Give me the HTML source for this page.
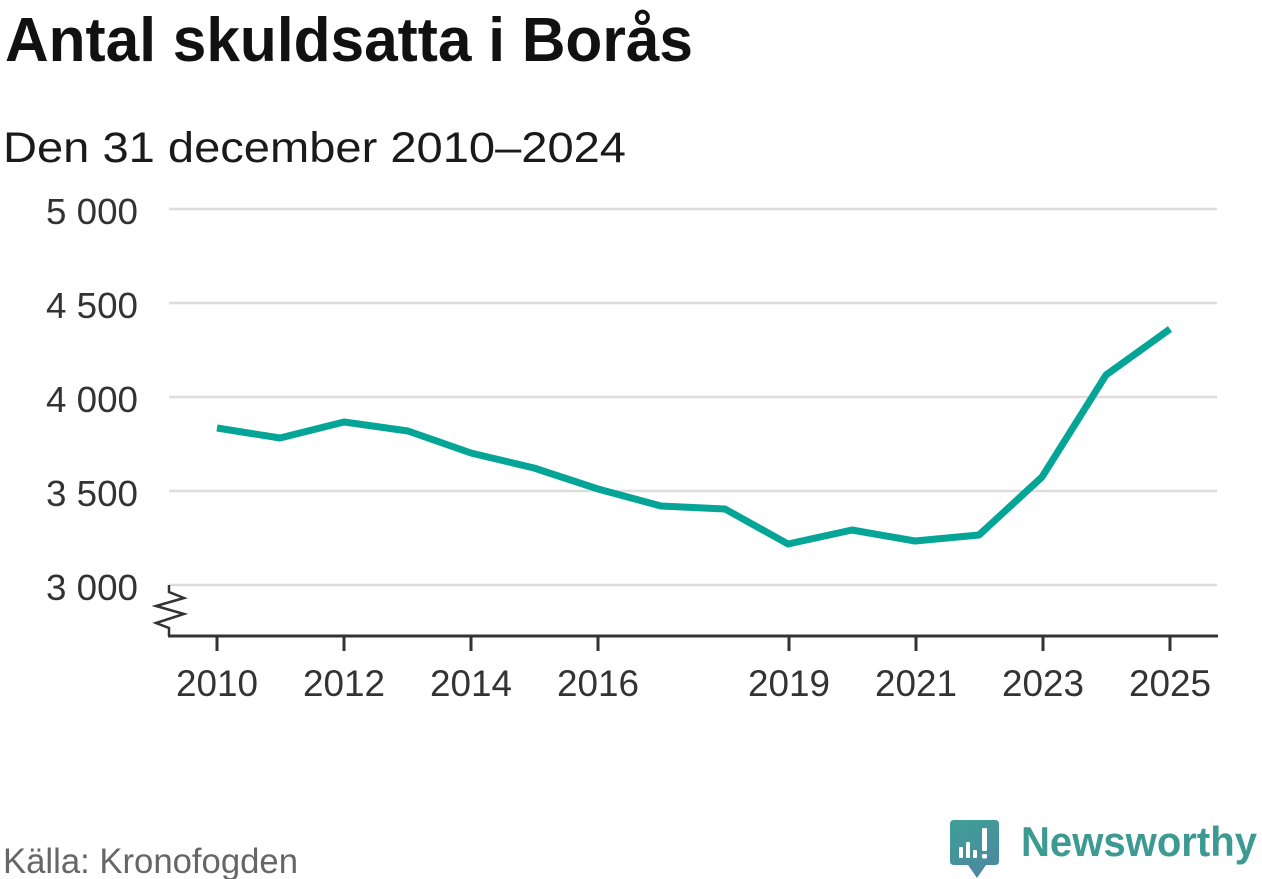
<!DOCTYPE html>
<html>
<head>
<meta charset="utf-8">
<style>
  html, body { margin: 0; padding: 0; background: #ffffff; }
  body { width: 1262px; height: 879px; overflow: hidden; }
  svg { display: block; }
  text { font-family: "Liberation Sans", "DejaVu Sans", sans-serif; }
</style>
</head>
<body>
<svg width="1262" height="879" viewBox="0 0 1262 879" xmlns="http://www.w3.org/2000/svg">
  <defs>
    <linearGradient id="lg" x1="0" y1="0" x2="0.4" y2="1">
      <stop offset="0" stop-color="#3fa096"/>
      <stop offset="1" stop-color="#4a8aa0"/>
    </linearGradient>
  </defs>

  <!-- Title -->
  <text x="5" y="61" font-size="62" font-weight="bold" fill="#111111" textLength="688" lengthAdjust="spacingAndGlyphs">Antal skuldsatta i Borås</text>
  <!-- Subtitle -->
  <text x="3" y="162" font-size="43" fill="#1a1a1a" textLength="623" lengthAdjust="spacingAndGlyphs">Den 31 december 2010–2024</text>

  <!-- Gridlines -->
  <g stroke="#dddddd" stroke-width="2.5">
    <line x1="169" y1="209" x2="1217" y2="209"/>
    <line x1="169" y1="303" x2="1217" y2="303"/>
    <line x1="169" y1="397" x2="1217" y2="397"/>
    <line x1="169" y1="491" x2="1217" y2="491"/>
    <line x1="169" y1="585" x2="1217" y2="585"/>
  </g>

  <!-- Y labels -->
  <g font-size="36" fill="#333333" text-anchor="end">
    <text x="138" y="224" textLength="92" lengthAdjust="spacingAndGlyphs">5 000</text>
    <text x="138" y="318" textLength="92" lengthAdjust="spacingAndGlyphs">4 500</text>
    <text x="138" y="412" textLength="92" lengthAdjust="spacingAndGlyphs">4 000</text>
    <text x="138" y="506" textLength="92" lengthAdjust="spacingAndGlyphs">3 500</text>
    <text x="138" y="600" textLength="92" lengthAdjust="spacingAndGlyphs">3 000</text>
  </g>

  <!-- Axis break -->
  <polyline points="169,585 169,592 184,598 156,606 184,614 156,623 169,628 169,636" fill="none" stroke="#333333" stroke-width="2.5" stroke-linejoin="miter"/>

  <!-- X axis -->
  <line x1="168" y1="636" x2="1218" y2="636" stroke="#333333" stroke-width="3"/>
  <g stroke="#333333" stroke-width="3">
    <line x1="217" y1="636" x2="217" y2="651"/>
    <line x1="344" y1="636" x2="344" y2="651"/>
    <line x1="471" y1="636" x2="471" y2="651"/>
    <line x1="598" y1="636" x2="598" y2="651"/>
    <line x1="789" y1="636" x2="789" y2="651"/>
    <line x1="916" y1="636" x2="916" y2="651"/>
    <line x1="1043" y1="636" x2="1043" y2="651"/>
    <line x1="1170" y1="636" x2="1170" y2="651"/>
  </g>
  <g font-size="37" fill="#333333" text-anchor="middle">
    <text x="217" y="696" textLength="82" lengthAdjust="spacingAndGlyphs">2010</text>
    <text x="344" y="696" textLength="82" lengthAdjust="spacingAndGlyphs">2012</text>
    <text x="471" y="696" textLength="82" lengthAdjust="spacingAndGlyphs">2014</text>
    <text x="598" y="696" textLength="82" lengthAdjust="spacingAndGlyphs">2016</text>
    <text x="789" y="696" textLength="82" lengthAdjust="spacingAndGlyphs">2019</text>
    <text x="916" y="696" textLength="82" lengthAdjust="spacingAndGlyphs">2021</text>
    <text x="1043" y="696" textLength="82" lengthAdjust="spacingAndGlyphs">2023</text>
    <text x="1170" y="696" textLength="82" lengthAdjust="spacingAndGlyphs">2025</text>
  </g>

  <!-- Data line -->
  <polyline fill="none" stroke="#04a597" stroke-width="7" stroke-linejoin="round" stroke-linecap="butt"
    points="217,428 280,438 344,422 408,431 471,453 534,468 598,489 661,506 725,509 788,544 852,530 915,541 979,535 1042,477 1106,375 1170,329"/>

  <!-- Source -->
  <text x="3" y="873" font-size="35" fill="#666666" textLength="295" lengthAdjust="spacingAndGlyphs">Källa: Kronofogden</text>

  <!-- Logo icon -->
  <path d="M954,820 H995 Q999,820 999,824 V861 Q999,865 995,865 H986 L977,878 L968,865 H954 Q950,865 950,861 V824 Q950,820 954,820 Z" fill="url(#lg)"/>
  <g fill="#ffffff">
    <rect x="959" y="847" width="4" height="11" rx="1"/>
    <rect x="966" y="842" width="4" height="16" rx="1"/>
    <rect x="973" y="850" width="4" height="8" rx="1"/>
    <rect x="982" y="828" width="5" height="23" rx="1.5"/>
    <rect x="982" y="854" width="5" height="4.5" rx="1.5"/>
  </g>
  <!-- Logo text -->
  <text x="1021" y="856" font-size="42" font-weight="bold" fill="#3d9a92" textLength="236" lengthAdjust="spacingAndGlyphs">Newsworthy</text>
</svg>
</body>
</html>
